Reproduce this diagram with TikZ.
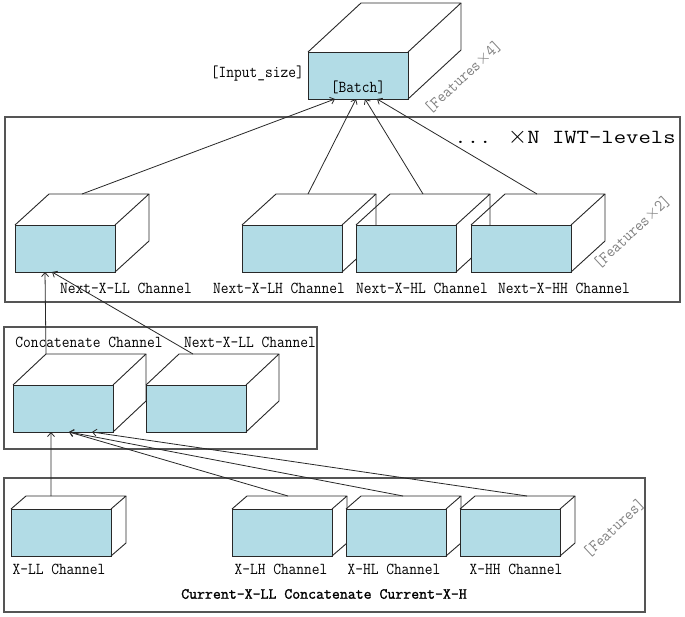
\documentclass[tikz,border=0pt]{standalone}
\usepackage{fontspec}
\usetikzlibrary{calc,arrows.meta}

\newfontfamily\labfont{Latin Modern Mono}[FakeStretch=0.9]
\newfontfamily\bigfont{Latin Modern Mono}[FakeStretch=1.2]
\newfontfamily\capfont{Latin Modern Mono}[FakeBold=1.5]

% a thin, wide multiplication sign
\newcommand{\bigtimes}{\ensuremath{\times}}

\definecolor{facefill}{RGB}{178,220,230}
\definecolor{edgecol}{RGB}{40,40,40}
\definecolor{framecol}{RGB}{85,85,85}

\tikzset{
  face/.style={draw=edgecol, line width=0.9pt, fill=facefill,
    minimum width=100pt, minimum height=47pt, inner sep=0pt, outer sep=0pt,
    anchor=north west},
  edge/.style={draw=edgecol, line width=0.9pt, line join=round},
  frame/.style={draw=framecol, line width=1.3pt},
  link/.style={draw=edgecol, line width=0.8pt,
    -{Straight Barb[length=4pt,width=7pt]}},
  lab/.style={font=\labfont\fontsize{16.7}{18}\selectfont, inner sep=0pt},
  dimlab/.style={lab, text=black!50, rotate=43},
}

% a block: blue front face (a named node) with open top and side faces
% #1 name, #2/#3 front top-left corner, #4/#5 depth offset
\newcommand{\cubebox}[5]{%
  \node[face] (#1) at (#2,#3) {};
  \coordinate (#1-bl) at ($(#1.north west)+(#4,-#5)$);
  \coordinate (#1-br) at ($(#1.north east)+(#4,-#5)$);
  \coordinate (#1-bb) at ($(#1.south east)+(#4,-#5)$);
  \draw[edge] (#1.north west) -- (#1-bl) -- (#1-br) -- (#1.north east);
  \draw[edge] (#1-br) -- (#1-bb) -- (#1.south east);
}

\begin{document}
\begin{tikzpicture}[x=1pt,y=-1pt]
  \fill[white] (0,0) rectangle (685,616);
  \useasboundingbox (0,0) rectangle (685,616);

  % group frames
  \draw[frame] (5,117) rectangle (680,302);
  \draw[frame] (4,327) rectangle (317,449);
  \draw[frame] (4,478) rectangle (645,612);

  % output block
  \cubebox{out}{308}{52}{53}{49}
  \node[lab, anchor=east] (insize) at (304,74) {[Input\_size]};
  \node[lab] (batch) at (358,87) {[Batch]};
  \node[dimlab] (f4) at (463,77) {[Features\bigtimes4]};
  \node[font=\bigfont\fontsize{20}{22}\selectfont, inner sep=0pt] (levels)
    at (565,137) {... {\fontsize{26}{26}\selectfont\bigtimes}N IWT-levels};

  % next-level channels
  \cubebox{nll}{15}{225}{34}{31}
  \cubebox{nlh}{242}{225}{34}{31}
  \cubebox{nhl}{356}{225}{34}{31}
  \cubebox{nhh}{471}{225}{34}{31}
  \node[lab] (tnll) at (126,288) {Next-X-LL Channel};
  \node[lab] (tnlh) at (279,288) {Next-X-LH Channel};
  \node[lab] (tnhl) at (422,288) {Next-X-HL Channel};
  \node[lab] (tnhh) at (564,288) {Next-X-HH Channel};
  \node[dimlab] (f2) at (632,232) {[Features\bigtimes2]};

  % concatenation stage
  \cubebox{cat}{13}{385}{33}{31}
  \cubebox{mll}{146}{385}{33}{31}
  \node[lab] (tcat) at (89,342) {Concatenate Channel};
  \node[lab] (tmll) at (250,342) {Next-X-LL Channel};

  % current-level channels
  \cubebox{xll}{11}{509}{15}{13}
  \cubebox{xlh}{232}{509}{15}{13}
  \cubebox{xhl}{346}{509}{15}{13}
  \cubebox{xhh}{460}{509}{15}{13}
  \node[lab] (txll) at (59,569) {X-LL Channel};
  \node[lab] (txlh) at (281,569) {X-LH Channel};
  \node[lab] (txhl) at (394,569) {X-HL Channel};
  \node[lab] (txhh) at (516,569) {X-HH Channel};
  \node[font=\capfont\fontsize{15.4}{17}\selectfont, inner sep=0pt] (cap)
    at (324,594) {Current-X-LL Concatenate Current-X-H};
  \node[dimlab] (f1) at (614,528) {[Features]};

  % connector end points
  \coordinate (nll-o) at ($(nll-bl)!0.33!(nll-br)$);
  \coordinate (nlh-o) at ($(nlh-bl)!0.32!(nlh-br)$);
  \coordinate (nhl-o) at ($(nhl-bl)!0.33!(nhl-br)$);
  \coordinate (nhh-o) at ($(nhh-bl)!0.32!(nhh-br)$);
  \coordinate (out-i1) at ($(out.south west)!0.27!(out.south east)$);
  \coordinate (out-i2) at ($(out.south west)!0.48!(out.south east)$);
  \coordinate (out-i3) at ($(out.south west)!0.57!(out.south east)$);
  \coordinate (out-i4) at ($(out.south west)!0.69!(out.south east)$);

  \coordinate (mll-o) at ($(mll-bl)!0.14!(mll-br)$);
  \coordinate (nll-i1) at ($(nll.south west)!0.30!(nll.south east)$);
  \coordinate (nll-i2) at ($(nll.south west)!0.37!(nll.south east)$);

  \coordinate (xll-o) at ($(xll-bl)!0.25!(xll-br)$);
  \coordinate (xlh-o) at ($(xlh-bl)!0.41!(xlh-br)$);
  \coordinate (xhl-o) at ($(xhl-bl)!0.42!(xhl-br)$);
  \coordinate (xhh-o) at ($(xhh-bl)!0.52!(xhh-br)$);
  \coordinate (cat-i1) at ($(cat.south west)!0.38!(cat.south east)$);
  \coordinate (cat-i2) at ($(cat.south west)!0.56!(cat.south east)$);
  \coordinate (cat-i3) at ($(cat.south west)!0.79!(cat.south east)$);

  % connectors
  \draw[link] (nll-o) -- (out-i1);
  \draw[link] (nlh-o) -- (out-i2);
  \draw[link] (nhl-o) -- (out-i3);
  \draw[link] (nhh-o) -- (out-i4);

  \draw[link] (cat-bl) -- (nll-i1);
  \draw[link] (mll-o) -- (nll-i2);

  \draw[link] (xll-o) -- (cat-i1);
  \draw[link] (xlh-o) -- (cat-i2);
  \draw[link] (xhl-o) -- (cat-i2);
  \draw[link] (xhh-o) -- (cat-i3);
\end{tikzpicture}
\end{document}
